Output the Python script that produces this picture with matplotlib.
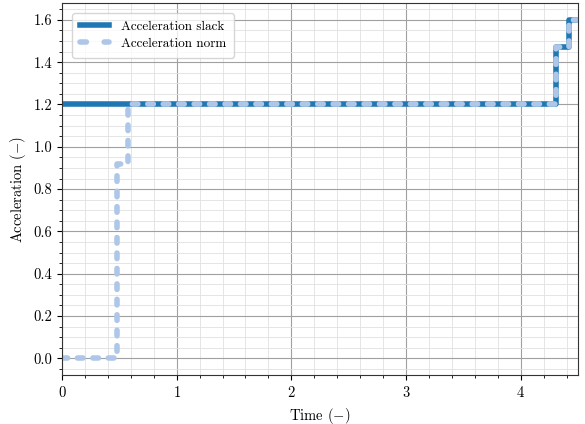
import numpy as np
import matplotlib
matplotlib.use("Agg")
from matplotlib import pyplot as plt

matplotlib.rcParams['font.family'] = 'serif'
matplotlib.rcParams['font.serif'] = ['cmr10']
matplotlib.rcParams['mathtext.fontset'] = 'cm'
matplotlib.rcParams['axes.formatter.use_mathtext'] = True
matplotlib.rcParams['font.size'] = 10.5

slack_t = [0.0, 4.31, 4.42, 4.5]
slack_v = [1.2, 1.47, 1.6, 1.6]
norm_t = [0.0, 0.48, 0.575, 4.31, 4.42, 4.5]
norm_v = [0.0, 0.92, 1.2, 1.47, 1.6, 1.6]

fig, ax = plt.subplots(figsize=(5.85, 4.24), dpi=100)

ax.step(slack_t, slack_v, where='post', color='#1f77b4', lw=4,
        label='Acceleration slack')
ax.step(norm_t, norm_v, where='post', color='#aec7e8', lw=4,
        ls=(0, (1, 1.78)), label='Acceleration norm', dash_capstyle='round')

ax.set_xlim(0, 4.5)
ax.set_ylim(-0.08, 1.68)
ax.set_xticks([0, 1, 2, 3, 4])
ax.set_xticks(np.arange(0, 4.51, 0.2), minor=True)
ax.set_yticks(np.arange(0, 1.61, 0.2))
ax.set_yticks(np.arange(-0.05, 1.68, 0.05), minor=True)
ax.set_yticklabels(['%.1f' % v for v in np.arange(0, 1.61, 0.2)])

ax.grid(which='major', color='#a0a0a0', lw=0.8)
ax.grid(which='minor', color='#e0e0e0', lw=0.6)
ax.set_axisbelow(True)
for s in ax.spines.values():
    s.set_color('#333333')

ax.set_xlabel('Time $(-)$')
ax.set_ylabel('Acceleration $(-)$')
leg = ax.legend(loc='upper left', fontsize=9.5, handlelength=2.2,
                handletextpad=0.9, borderpad=0.6, labelspacing=0.35,
                borderaxespad=0.75)
leg.get_lines()[1].set_linestyle((0, (1.15, 3.2)))

plt.subplots_adjust(left=0.106, right=0.988, top=0.993, bottom=0.115)
plt.savefig('out.png')
